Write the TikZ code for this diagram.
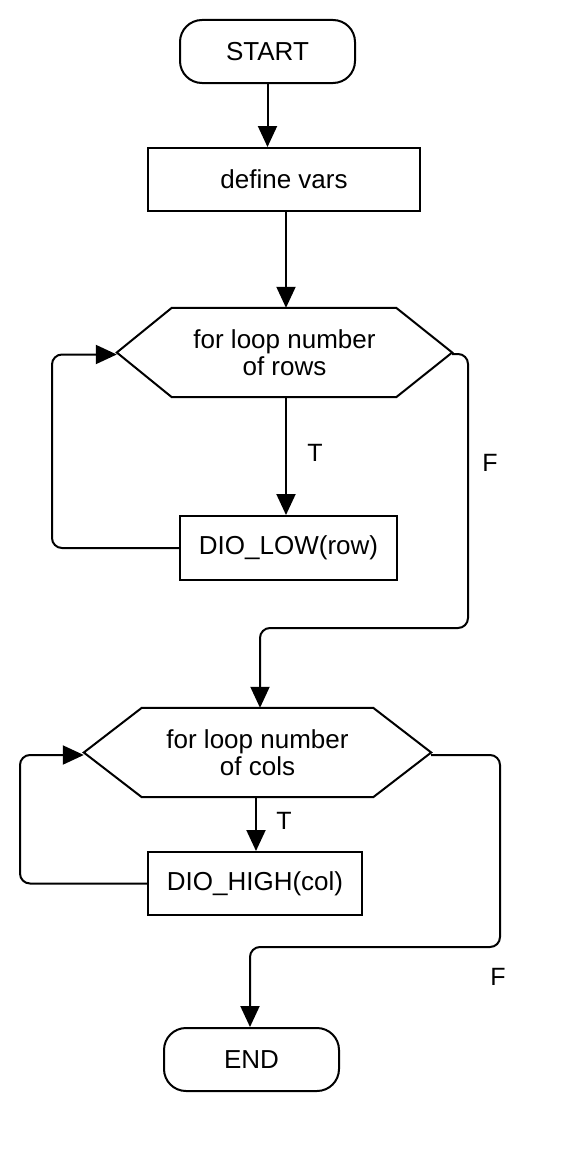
\documentclass[tikz,border=0pt]{standalone}
\usepackage{fontspec}
\setmainfont{Liberation Sans}
\usetikzlibrary{arrows.meta}
\begin{document}
\begin{tikzpicture}[x=1pt,y=-1pt,
  every node/.style={font=\fontsize{26}{27}\selectfont, align=center, inner sep=0pt},
  box/.style={draw, line width=2pt, minimum height=63pt},
  term/.style={draw, line width=2pt, rounded corners=22pt, minimum width=175pt, minimum height=63pt},
  hexnode/.style={minimum height=89pt},
  hexline/.style={line width=2pt, line join=miter},
  conn/.style={line width=2pt, -{Triangle[length=21pt,width=19pt]}, rounded corners=10pt},
  lbl/.style={font=\fontsize{25}{26}\selectfont}
]
\useasboundingbox (0,0) rectangle (584,1172);

\node[term] (start) at (267.5,51.5) {START};
\node[box, minimum width=272pt] (def) at (284,179.5) {define vars};
\node[hexnode, minimum width=335pt] (h1) at (284.5,352.5) {for loop number\\of rows};
\draw[hexline] (h1.west) -- ([xshift=55pt]h1.north west) -- ([xshift=-56pt]h1.north east) -- (h1.east)
  -- ([xshift=-56pt]h1.south east) -- ([xshift=55pt]h1.south west) -- cycle;
\node[box, minimum width=217pt, minimum height=64pt] (low) at (288.5,548) {DIO\_LOW(row)};
\node[hexnode, minimum width=347pt] (h2) at (257.5,752.5) {for loop number\\of cols};
\draw[hexline] (h2.west) -- ([xshift=58pt]h2.north west) -- ([xshift=-58pt]h2.north east) -- (h2.east)
  -- ([xshift=-58pt]h2.south east) -- ([xshift=58pt]h2.south west) -- cycle;
\node[box, minimum width=214pt] (high) at (255,883.5) {DIO\_HIGH(col)};
\node[term] (end) at (251.5,1059.5) {END};

% main flow
\draw[conn] (start.south) -- (start.south |- def.north);
\draw[conn] ([xshift=2pt]def.south) -- ([xshift=2pt]def.south |- h1.north);
\draw[conn] ([xshift=1.5pt]h1.south) -- ([xshift=1.5pt]h1.south |- low.north);
\node[lbl] (t1) at (315,453) {T};

% loop 1
\coordinate (l1) at (52,548);
\draw[conn] (low.west) -- (l1) |- ([yshift=-2pt]h1.west);

% F branch 1
\coordinate (f1a) at (468,354);
\coordinate (f1b) at (468,628);
\coordinate (f1c) at (260,628);
\draw[conn] ([yshift=-1.5pt]h1.east) -- (f1a) -- (f1b) -- (f1c) -- (f1c |- h2.north);
\node[lbl] (fl1) at (490,463) {F};

% h2 -> high
\draw[conn] ([xshift=-1.5pt]h2.south) -- ([xshift=-1.5pt]h2.south |- high.north);
\node[lbl] (t2) at (284,821) {T};

% loop 2
\coordinate (l2) at (20,883.5);
\draw[conn] (high.west) -- (l2) |- ([yshift=-2.5pt]h2.west);

% F branch 2
\coordinate (f2a) at (500,755);
\coordinate (f2b) at (500,947);
\coordinate (f2c) at (250,947);
\draw[conn] ([yshift=-2.5pt]h2.east) -- (f2a) -- (f2b) -- (f2c) -- (f2c |- end.north);
\node[lbl] (fl2) at (498,977) {F};
\end{tikzpicture}
\end{document}
